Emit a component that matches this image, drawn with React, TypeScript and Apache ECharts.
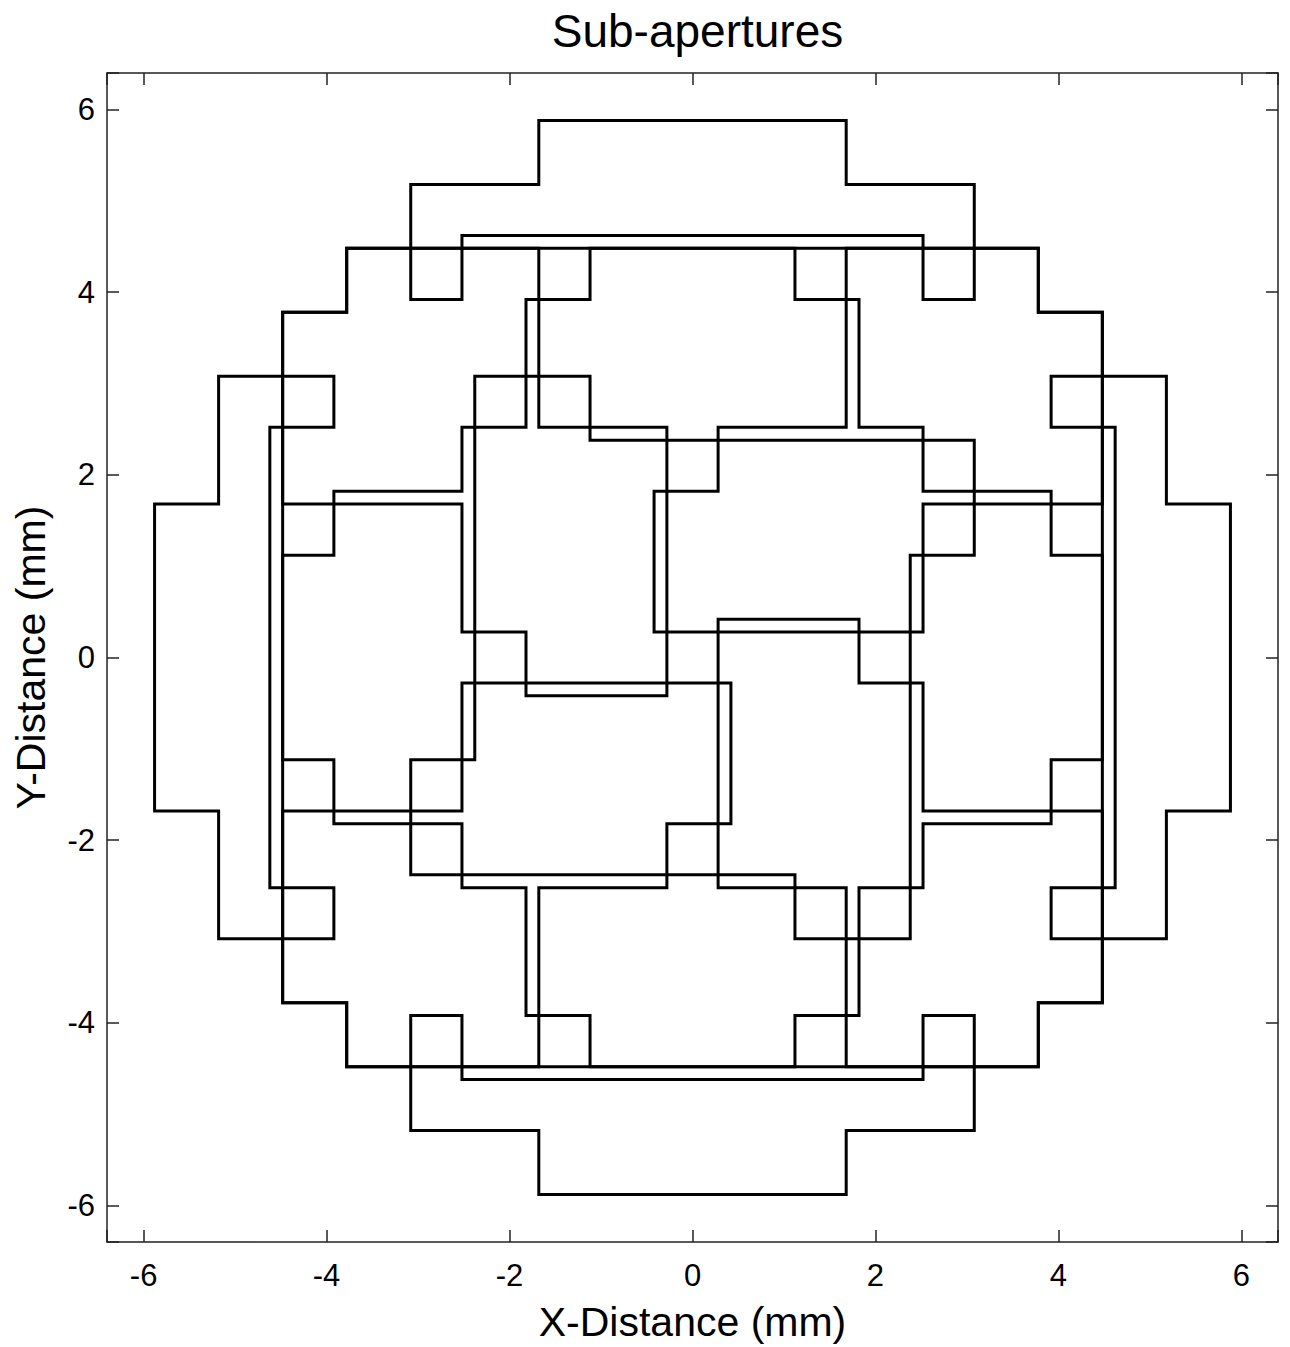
import React, { useEffect, useRef } from "react";
import * as echarts from "echarts";

// Pixel-edge levels (mm), smallest to largest magnitude
const edgeLevels = [0.28, 0.42, 1.12, 1.68, 1.82, 2.38, 2.52, 3.08, 3.78, 3.92, 4.48, 4.62, 5.18, 5.88];
const [A, B, C, D, E, F, G, H, I, J, K, L, M, N] = edgeLevels;

// Axis ticks
const tickValues = [-6, -4, -2, 0, 2, 4, 6];

// Sub-aperture outlines (vertices, mm)
const fullAperture = [[-I, K], [I, K], [I, I], [K, I], [K, -I], [I, -I], [I, -K], [-I, -K], [-I, -I], [-K, -I], [-K, I], [-I, I]];
const topCap = [[-D, N], [D, N], [D, M], [H, M], [H, J], [G, J], [G, L], [-G, L], [-G, J], [-H, J], [-H, M], [-D, M]];
const bottomCap = [[-D, -N], [D, -N], [D, -M], [H, -M], [H, -J], [G, -J], [G, -L], [-G, -L], [-G, -J], [-H, -J], [-H, -M], [-D, -M]];
const leftCap = [[-N, -D], [-N, D], [-M, D], [-M, H], [-J, H], [-J, G], [-L, G], [-L, -G], [-J, -G], [-J, -H], [-M, -H], [-M, -D]];
const rightCap = [[N, -D], [N, D], [M, D], [M, H], [J, H], [J, G], [L, G], [L, -G], [J, -G], [J, -H], [M, -H], [M, -D]];
const ring = [
  [-C, K], [C, K], [C, J], [E, J], [E, G], [G, G], [G, E], [J, E], [J, C], [K, C],
  [K, -C], [J, -C], [J, -E], [G, -E], [G, -G], [E, -G], [E, -J], [C, -J], [C, -K],
  [-C, -K], [-C, -J], [-E, -J], [-E, -G], [-G, -G], [-G, -E], [-J, -E], [-J, -C], [-K, -C],
  [-K, C], [-J, C], [-J, E], [-G, E], [-G, G], [-E, G], [-E, J], [-C, J],
];
const petalUL = [[-D, K], [-D, G], [-A, G], [-A, -B], [-E, -B], [-E, A], [-G, A], [-G, D], [-K, D], [-K, I], [-I, I], [-I, K]];
const petalUR = [[K, D], [G, D], [G, A], [-B, A], [-B, E], [A, E], [A, G], [D, G], [D, K], [I, K], [I, I], [K, I]];
const petalLR = [[D, -K], [D, -G], [A, -G], [A, B], [E, B], [E, -A], [G, -A], [G, -D], [K, -D], [K, -I], [I, -I], [I, -K]];
const petalLL = [[-K, -D], [-G, -D], [-G, -A], [B, -A], [B, -E], [-A, -E], [-A, -G], [-D, -G], [-D, -K], [-I, -K], [-I, -I], [-K, -I]];
const centre = [[-F, H], [-C, H], [-C, F], [H, F], [H, C], [F, C], [F, -H], [C, -H], [C, -F], [-H, -F], [-H, -C], [-F, -C]];

const outlines = [fullAperture, topCap, bottomCap, leftCap, rightCap, ring, petalUL, petalUR, petalLR, petalLL, centre];

const FONT = "'Liberation Sans', Arial, Helvetica, sans-serif";

export default function App() {
  const ref = useRef<HTMLDivElement>(null);
  useEffect(() => {
    document.body.style.margin = "0";
    if (!ref.current) return;
    const chart = echarts.init(ref.current, undefined, { renderer: "svg" });
    const axisBase: any = {
      type: "value",
      min: -6.4,
      max: 6.4,
      splitNumber: 6,
      minInterval: 2,
      maxInterval: 2,
      axisLine: { show: true, onZero: false, lineStyle: { color: "#222", width: 1.5 } },
      axisTick: { show: true, inside: true, length: 12, lineStyle: { color: "#222", width: 1.5 } },
      splitLine: { show: false },
    };
    const labelStyle = {
      fontFamily: FONT,
      fontSize: 31,
      color: "#000",
      formatter: (v: number) => (tickValues.includes(v) ? String(v) : ""),
    };
    chart.setOption({
      animation: false,
      backgroundColor: "#fff",
      title: {
        text: "Sub-apertures",
        left: 692.5,
        top: 3,
        textAlign: "center",
        textStyle: { fontFamily: FONT, fontSize: 46, fontWeight: "normal", color: "#000" },
      },
      grid: { left: 107, top: 73, width: 1171, height: 1170, containLabel: false },
      xAxis: [
        {
          ...axisBase,
          position: "bottom",
          name: "X-Distance (mm)",
          nameLocation: "middle",
          nameGap: 59,
          nameTextStyle: { fontFamily: FONT, fontSize: 41, color: "#000" },
          axisLabel: { ...labelStyle, margin: 18 },
        },
        { ...axisBase, position: "top", axisLabel: { show: false } },
      ],
      yAxis: [
        {
          ...axisBase,
          position: "left",
          name: "Y-Distance (mm)",
          nameLocation: "middle",
          nameRotate: 90,
          nameGap: 56,
          nameTextStyle: { fontFamily: FONT, fontSize: 41, color: "#000" },
          axisLabel: { ...labelStyle, margin: 12 },
        },
        { ...axisBase, position: "right", axisLabel: { show: false } },
      ],
      series: outlines.map((pts, i) => ({
        type: "line",
        name: "sub-aperture " + (i + 1),
        xAxisIndex: 0,
        yAxisIndex: 0,
        data: [...pts, pts[0]],
        symbol: "none",
        showSymbol: false,
        silent: true,
        clip: false,
        lineStyle: { color: "#000", width: 3, join: "miter", cap: "square" },
      })),
    });
    return () => chart.dispose();
  }, []);
  return <div ref={ref} style={{ width: 1290, height: 1347 }} />;
}
